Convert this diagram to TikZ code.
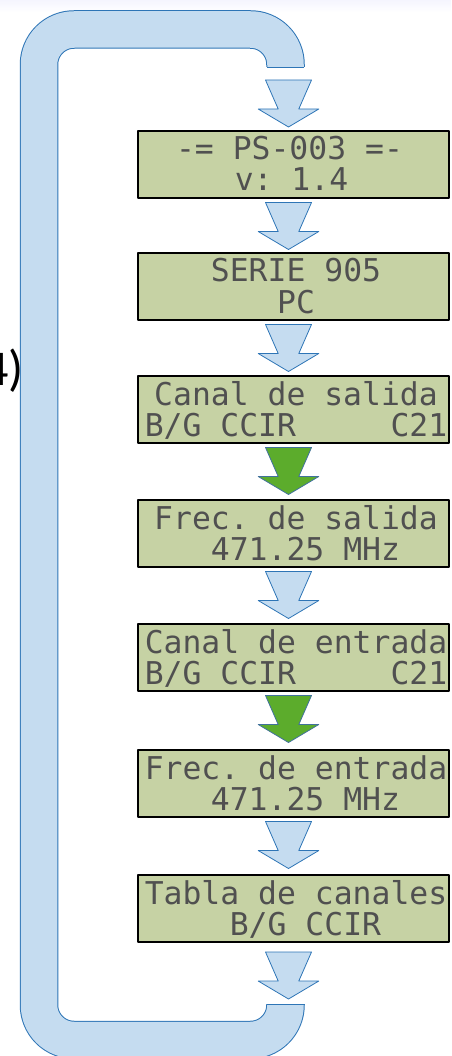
\documentclass[tikz,border=0pt]{standalone}
\usepackage{fontspec}
\newfontfamily\lcdfont{DejaVu Sans Mono}
\newfontfamily\carlito{Carlito}
\definecolor{lcdgreen}{RGB}{198,210,164}
\definecolor{lcdink}{RGB}{80,80,80}
\definecolor{loopfill}{RGB}{197,220,240}
\definecolor{loopline}{RGB}{46,117,182}
\definecolor{arrowgreen}{RGB}{92,172,44}
\definecolor{arrowline}{RGB}{65,113,156}
\begin{document}
\begin{tikzpicture}[x=1pt,y=-1pt, line join=round,
    lcd/.style={draw=black, line width=2pt, fill=lcdgreen, minimum width=311pt, minimum height=67pt, inner sep=0pt},
    lcdtext/.style={inner sep=0pt, text height=22pt, text depth=0pt, text=lcdink, font=\lcdfont\fontsize{31.4}{31.4}\selectfont\frenchspacing},
    bluearrow/.style={fill=loopfill, draw=loopline, line width=0.8pt},
    greenarrow/.style={fill=arrowgreen, draw=arrowline, line width=0.8pt},
    dnarrow/.pic={\path[pic actions] (-23,0) -- (23,0) -- (10.3,29) -- (30.3,29) -- (0,47) -- (-30.3,29) -- (-10.3,29) -- cycle;}]
    \useasboundingbox (0,0) rectangle (451,1056);
    \fill[top color=black!8!blue!4, bottom color=white] (0,0) rectangle (451,12);
    % Schleife
    \coordinate (loopin) at (285.5,1004);
    \coordinate (loopout) at (285.5,67);
    \draw[loopline, line width=38.5pt, rounded corners=35pt] (loopin) -- (285.5,1040) -- (39,1040) -- (39,29.5) -- (285.5,29.5) -- (loopout);
    \draw[loopfill, line width=36.5pt, rounded corners=35pt] (loopin) -- (285.5,1040) -- (39,1040) -- (39,29.5) -- (285.5,29.5) -- (loopout);
    \draw[loopline, line width=0.8pt] ([xshift=-18.5pt]loopout) -- ([xshift=18.5pt]loopout);
    \draw[loopline, line width=0.8pt] ([xshift=-18.5pt]loopin) -- ([xshift=18.5pt]loopin);
    \node[anchor=base east, inner sep=0pt, font=\carlito\fontsize{50}{50}\selectfont] (step) at (24,385) {4)};
    % Anzeigen
    \node[lcd] (ps) at (293.5,164.5) {};
    \node[lcd] (serie) at (293.5,286.5) {};
    \node[lcd] (csal) at (293.5,409.5) {};
    \node[lcd] (fsal) at (293.5,533.5) {};
    \node[lcd] (cent) at (293.5,657.5) {};
    \node[lcd] (fent) at (293.5,783.5) {};
    \node[lcd] (tabla) at (293.5,908.5) {};
    \node[lcdtext] (ps1) at ([xshift=-4pt,yshift=15.5pt]ps.center) {-= PS-003 =-};
    \node[lcdtext] (ps2) at ([xshift=-2pt,yshift=-15.5pt]ps.center) {v: 1.4};
    \node[lcdtext] (serie1) at ([xshift=2.5pt,yshift=15.5pt]serie.center) {SERIE 905};
    \node[lcdtext] (serie2) at ([xshift=2.5pt,yshift=-15.5pt]serie.center) {PC};
    \node[lcdtext] (csal1) at ([xshift=2.5pt,yshift=15.5pt]csal.center) {Canal de salida~};
    \node[lcdtext] (csal2) at ([xshift=2.5pt,yshift=-15.5pt]csal.center) {B/G CCIR~~~~~C21};
    \node[lcdtext] (fsal1) at ([xshift=2.5pt,yshift=15.5pt]fsal.center) {Frec. de salida~};
    \node[lcdtext] (fsal2) at ([xshift=2.5pt,yshift=-15.5pt]fsal.center) {~~~471.25 MHz~~~};
    \node[lcdtext] (cent1) at ([xshift=2.5pt,yshift=15.5pt]cent.center) {Canal de entrada};
    \node[lcdtext] (cent2) at ([xshift=2.5pt,yshift=-15.5pt]cent.center) {B/G CCIR~~~~~C21};
    \node[lcdtext] (fent1) at ([xshift=2.5pt,yshift=15.5pt]fent.center) {Frec. de entrada};
    \node[lcdtext] (fent2) at ([xshift=2.5pt,yshift=-15.5pt]fent.center) {~~~471.25 MHz~~~};
    \node[lcdtext] (tabla1) at ([xshift=2.5pt,yshift=15.5pt]tabla.center) {Tabla de canales};
    \node[lcdtext] (tabla2) at ([xshift=2.5pt,yshift=-15.5pt]tabla.center) {~~~~B/G CCIR~~~~};
    % Pfeile
    \pic[bluearrow] at ([xshift=-5pt,yshift=50pt]ps.north) {dnarrow};
    \pic[bluearrow] at ([xshift=-5pt,yshift=-3.5pt]ps.south) {dnarrow};
    \pic[bluearrow] at ([xshift=-5pt,yshift=-3.5pt]serie.south) {dnarrow};
    \pic[greenarrow] at ([xshift=-5pt,yshift=-3.5pt]csal.south) {dnarrow};
    \pic[bluearrow] at ([xshift=-5pt,yshift=-3.5pt]fsal.south) {dnarrow};
    \pic[greenarrow] at ([xshift=-5pt,yshift=-3.5pt]cent.south) {dnarrow};
    \pic[bluearrow] at ([xshift=-5pt,yshift=-3.5pt]fent.south) {dnarrow};
    \pic[bluearrow] at ([xshift=-5pt,yshift=-9pt]tabla.south) {dnarrow};
\end{tikzpicture}
\end{document}
